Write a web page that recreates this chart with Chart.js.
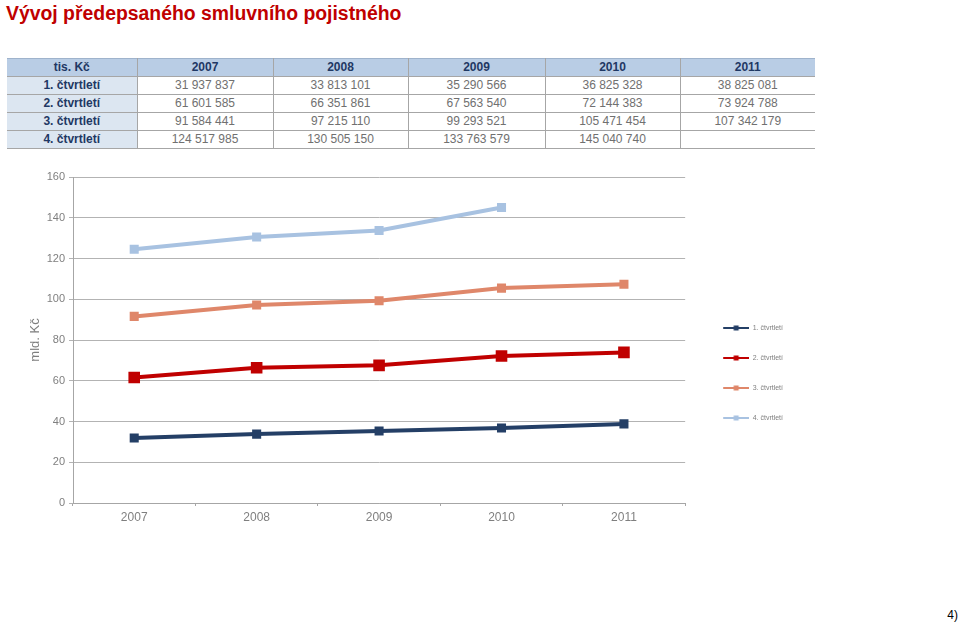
<!DOCTYPE html>
<html lang="cs">
<head>
<meta charset="utf-8">
<title>Vývoj předepsaného smluvního pojistného</title>
<script src="https://cdn.jsdelivr.net/npm/chart.js@4.4.1/dist/chart.umd.min.js"></script>
<style>
  html, body { margin: 0; padding: 0; background: #fff; }
  body { width: 960px; height: 625px; position: relative; overflow: hidden; font-family: "Liberation Sans", Arial, sans-serif; }
  h1 { position: absolute; left: 6px; top: 2px; margin: 0; font-size: 19.4px; font-weight: bold; color: #c00000; }
  table { position: absolute; left: 7px; top: 58px; width: 808px; border-collapse: collapse; font-size: 12px; table-layout: fixed; }
  th, td { height: 17px; padding: 0; text-align: center; border: 1px solid #a6a6a6; line-height: 17px; }
  thead th { background: #b9cde5; color: #1f3864; font-weight: bold; border-top: 1px solid #9fb3cc; }
  tbody th { background: #dce6f1; color: #1f3864; font-weight: bold; }
  tbody td { color: #707070; }
  tr > *:first-child { border-left: none; }
  tr > *:last-child { border-right: none; }
  #wrap { position: absolute; left: 0; top: 160px; width: 793px; height: 409px; }
  #page { position: absolute; right: 2px; top: 608px; font-size: 12px; color: #000; }
</style>
</head>
<body>
<h1>Vývoj předepsaného smluvního pojistného</h1>
<table id="tab"></table>
<div id="wrap"><canvas id="chart"></canvas></div>
<div id="page">4)</div>
<script>
/* DATA (tis. Kč) */
const years = ["2007", "2008", "2009", "2010", "2011"];
const quarters = ["1. čtvrtletí", "2. čtvrtletí", "3. čtvrtletí", "4. čtvrtletí"];
const q1 = [31937837, 33813101, 35290566, 36825328, 38825081];
const q2 = [61601585, 66351861, 67563540, 72144383, 73924788];
const q3 = [91584441, 97215110, 99293521, 105471454, 107342179];
const q4 = [124517985, 130505150, 133763579, 145040740, null];
const yTicks = [0, 20, 40, 60, 80, 100, 120, 140, 160];

const colors = ["#243f66", "#c00000", "#df876a", "#a8c2e1"];
const markerRadius = [6.4, 8.2, 6.4, 6.4];

/* TABLE */
function fmt(v) {
    if (v === null) return "";
    return String(v).replace(/\B(?=(\d{3})+(?!\d))/g, " ");
}

let tab = document.getElementById("tab");
let head = "<thead><tr><th>tis. Kč</th>" + years.map(y => `<th>${y}</th>`).join("") + "</tr></thead>";
let rows = [q1, q2, q3, q4].map((arr, i) =>
    `<tr><th>${quarters[i]}</th>` + arr.map(v => `<td>${fmt(v)}</td>`).join("") + "</tr>"
).join("");
tab.innerHTML = '<colgroup><col style="width:130px"><col style="width:136px"><col style="width:135px"><col style="width:137px"><col style="width:135px"><col style="width:135px"></colgroup>' + head + "<tbody>" + rows + "</tbody>";

/* LEGEND GLYPHS: line with a small square, left part left empty as gap */
function legendGlyph(color) {
    let c = document.createElement("canvas");
    c.width = 41;
    c.height = 8;
    let g = c.getContext("2d");
    g.fillStyle = color;
    g.fillRect(15, 3, 26, 2);
    g.fillRect(25.5, 1.5, 5, 5);
    return c;
}

/* CHART */
const series = [q1, q2, q3, q4];
let ctx = document.getElementById("chart").getContext("2d");

let chart = new Chart(ctx, {
    type: 'line',
    data: {
        labels: years,
        datasets: series.map((arr, i) => ({
            label: quarters[i],
            data: arr.map(v => v === null ? null : v / 1e6),
            borderColor: colors[i],
            backgroundColor: colors[i],
            borderWidth: 4,
            pointStyle: 'rect',
            pointRadius: markerRadius[i],
            pointHoverRadius: markerRadius[i],
            pointBorderWidth: 0,
            tension: 0,
            spanGaps: false
        }))
    },
    options: {
        responsive: true,
        maintainAspectRatio: false,
        animation: false,
        layout: { padding: { top: 17 } },
        plugins: {
            tooltip: { enabled: false },
            legend: {
                position: 'right',
                align: 'center',
                labels: {
                    usePointStyle: true,
                    pointStyleWidth: 41,
                    padding: 23,
                    color: "#7f7f7f",
                    font: { family: "Liberation Sans", size: 7 },
                    generateLabels: ch => ch.data.datasets.map((ds, i) => ({
                        text: ds.label,
                        pointStyle: legendGlyph(colors[i]),
                        fillStyle: colors[i],
                        strokeStyle: colors[i],
                        lineWidth: 0,
                        fontColor: "#7f7f7f",
                        datasetIndex: i
                    }))
                }
            }
        },
        scales: {
            x: {
                offset: true,
                afterFit: s => { s.height = 66; },
                grid: { display: true, offset: true, drawOnChartArea: false, tickLength: 3, color: "#a6a6a6" },
                border: { color: "#a6a6a6", width: 1 },
                ticks: { color: "#7f7f7f", padding: 4, font: { family: "Liberation Sans", size: 12 } }
            },
            y: {
                min: 0,
                max: 160,
                afterFit: s => { s.width = 73; },
                afterBuildTicks: s => { s.ticks = yTicks.map(v => ({ value: v })); },
                title: {
                    display: true,
                    text: "mld. Kč",
                    color: "#7f7f7f",
                    font: { family: "Liberation Sans", size: 13 },
                    padding: { top: 28, bottom: 0 }
                },
                grid: { color: "#b3b3b3", tickLength: 4 },
                border: { color: "#a6a6a6", width: 1 },
                ticks: { color: "#7f7f7f", padding: 4, font: { family: "Liberation Sans", size: 11 } }
            }
        }
    }
});
</script>
</body>
</html>
